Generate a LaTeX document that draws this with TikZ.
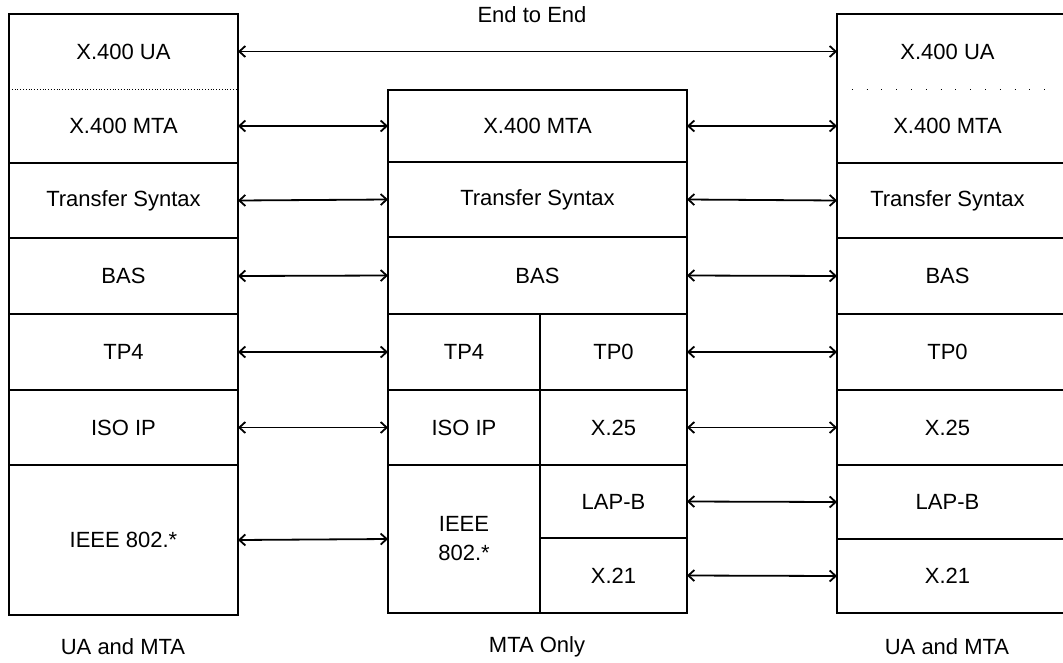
\documentclass[tikz,border=0pt]{standalone}
\usepackage{fontspec}
\setmainfont{Liberation Sans}
\usetikzlibrary{arrows.meta}
\begin{document}
\begin{tikzpicture}[x=1pt,y=-1pt,
  cell/.style={draw, line width=1.8pt, inner sep=0pt, outer sep=0pt, align=center, font=\fontsize{22}{29}\selectfont},
  tcell/.style={inner sep=0pt, outer sep=0pt, align=center, font=\fontsize{22}{29}\selectfont},
  frame/.style={line width=1.8pt},
  lbl/.style={inner sep=0pt, font=\fontsize{22}{29}\selectfont},
  link/.style={line width=1.8pt, {Straight Barb[length=6pt,width=11pt]}-{Straight Barb[length=6pt,width=11pt]}}
]
\newcommand\cellbox[7][cell]{\node[#1, minimum width={#5-#3}, minimum height={#6-#4}] (#2) at ({(#3+#5)/2},{(#4+#6)/2}) {#7};}
\useasboundingbox (0,0) rectangle (1063,662);
\clip (0,0) rectangle (1063,662);

% left column
\cellbox{ltop}{9}{14}{238}{163}{}
\cellbox[tcell]{lua}{9}{14}{238}{89}{X.400 UA}
\cellbox[tcell]{lmta}{9}{89}{238}{163}{X.400 MTA}
\draw[line width=0.8pt, dotted] (ltop.west |- lua.south) -- (ltop.east |- lua.south);
\cellbox{lts}{9}{163}{238}{238}{Transfer Syntax}
\cellbox{lbas}{9}{238}{238}{314}{BAS}
\cellbox{ltp}{9}{314}{238}{390}{TP4}
\cellbox{liso}{9}{390}{238}{465}{ISO IP}
\cellbox{lieee}{9}{465}{238}{615}{IEEE 802.*}

% middle column
\cellbox{mmta}{388}{90}{687}{162}{X.400 MTA}
\cellbox{mts}{388}{162}{687}{237}{Transfer Syntax}
\cellbox{mbas}{388}{237}{687}{314}{BAS}
\cellbox{mtpf}{388}{314}{540}{390}{TP4}
\cellbox{mtpz}{540}{314}{687}{390}{TP0}
\cellbox{miso}{388}{390}{540}{465}{ISO IP}
\cellbox{mxtf}{540}{390}{687}{465}{X.25}
\cellbox{mieee}{388}{465}{540}{613}{IEEE\\802.*}
\cellbox{mlap}{540}{465}{687}{538}{LAP-B}
\cellbox{mxto}{540}{538}{687}{613}{X.21}

% right column (runs off the right edge)
\cellbox[tcell]{rtop}{837}{14}{1058}{163}{}
\cellbox[tcell]{rua}{837}{14}{1058}{89}{X.400 UA}
\cellbox[tcell]{rmta}{837}{89}{1058}{163}{X.400 MTA}
\draw[line width=0.8pt, dash pattern=on 0.8pt off 14pt] (rtop.west |- rua.south) -- (rtop.east |- rua.south);
\cellbox[tcell]{rts}{837}{163}{1058}{238}{Transfer Syntax}
\cellbox[tcell]{rbas}{837}{238}{1058}{314}{BAS}
\cellbox[tcell]{rtpz}{837}{314}{1058}{390}{TP0}
\cellbox[tcell]{rxtf}{837}{390}{1058}{465}{X.25}
\cellbox[tcell]{rlap}{837}{465}{1058}{539}{LAP-B}
\cellbox[tcell]{rxto}{837}{539}{1058}{613}{X.21}
\foreach \n in {rtop,rts,rbas,rtpz,rxtf,rlap,rxto}
  \draw[frame] ([xshift=15pt]\n.north east) -| (\n.south west) -- ([xshift=15pt]\n.south east);

% connectors
\node[lbl] (e2e) at (532,15) {End to End};
\draw[link] (lua.east) -- (rua.west);
\draw[link] (lmta.east) -- (mmta.west);
\draw[link] (lts.east) -- (mts.west);
\draw[link] (lbas.east) -- (mbas.west);
\draw[link] (ltp.east) -- (mtpf.west);
\draw[link] (liso.east) -- (miso.west);
\draw[link] (lieee.east) -- (mieee.west);
\draw[link] (mmta.east) -- (rmta.west);
\draw[link] (mts.east) -- (rts.west);
\draw[link] (mbas.east) -- (rbas.west);
\draw[link] (mtpz.east) -- (rtpz.west);
\draw[link] (mxtf.east) -- (rxtf.west);
\draw[link] (mlap.east) -- (rlap.west);
\draw[link] (mxto.east) -- (rxto.west);

% captions
\node[lbl] (capl) at (123,647) {UA and MTA};
\node[lbl] (capm) at (537,647) {MTA Only};
\node[lbl] (capr) at (947,647) {UA and MTA};
\end{tikzpicture}
\end{document}
